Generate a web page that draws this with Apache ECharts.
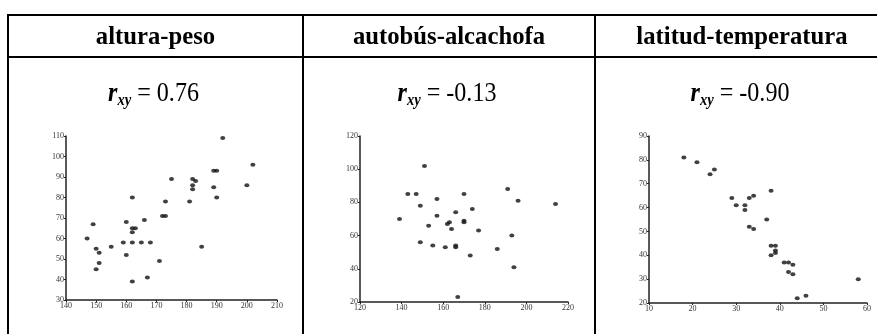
<!DOCTYPE html>
<html>
<head>
<meta charset="utf-8">
<script src="https://cdn.jsdelivr.net/npm/echarts@6/dist/echarts.min.js"></script>
<style>
  html, body { margin: 0; padding: 0; background: #fff; }
  #chart { width: 877px; height: 334px; }
</style>
</head>
<body>
<div id="chart"></div>
<script>
// Column headings and correlation coefficients
const headings = ['altura-peso', 'autobús-alcachofa', 'latitud-temperatura'];
const coefficients = ['0.76', '-0.13', '-0.90'];

// altura-peso
const altura = [192, 202, 175, 182, 183, 182, 182, 189, 190, 189, 200, 190, 162, 173, 181, 172, 173, 166, 160, 149,
  162, 163, 162, 147, 159, 162, 165, 168, 155, 185, 150, 151, 160, 151, 171, 150, 167, 162];
const peso = [109, 96, 89, 89, 88, 86, 84, 93, 93, 85, 86, 80, 80, 78, 78, 71, 71, 69, 68, 67,
  65, 65, 63, 60, 58, 58, 58, 58, 56, 56, 55, 53, 52, 48, 49, 45, 41, 39];
const alturaTicks = [140, 150, 160, 170, 180, 190, 200, 210];
const pesoTicks = [30, 40, 50, 60, 70, 80, 90, 100, 110];

// autobús-alcachofa
const autobus = [151, 143, 147, 170, 157, 149, 139, 157, 166, 174, 153, 162, 163, 164, 170, 170, 177, 191, 196, 214,
  149, 155, 161, 166, 166, 173, 186, 193, 194, 167];
const alcachofa = [102, 85, 85, 85, 82, 78, 70, 72, 74, 76, 66, 67, 68, 64, 69, 68, 63, 88, 81, 79,
  56, 54, 53, 54, 53, 48, 52, 60, 41, 23];
const autobusTicks = [120, 140, 160, 180, 200, 220];
const alcachofaTicks = [20, 40, 60, 80, 100, 120];

// latitud-temperatura
const latitud = [18, 21, 25, 24, 38, 34, 29, 33, 30, 32, 32, 37, 33, 34, 38, 39, 39, 39, 38, 41, 42, 43, 42, 43, 58, 46, 44];
const temperatura = [81, 79, 76, 74, 67, 65, 64, 64, 61, 61, 59, 55, 52, 51, 44, 44, 42, 41, 40, 37, 37, 36, 33, 32, 30, 23, 22];
const latitudTicks = [10, 20, 30, 40, 50, 60];
const temperaturaTicks = [20, 30, 40, 50, 60, 70, 80, 90];

const SERIF = '"Liberation Serif", "Times New Roman", serif';

const panels = [
  { xs: altura, ys: peso, xt: alturaTicks, yt: pesoTicks,
    grid: { left: 66, top: 136, width: 211, height: 164 } },
  { xs: autobus, ys: alcachofa, xt: autobusTicks, yt: alcachofaTicks,
    grid: { left: 360, top: 136, width: 208, height: 166 } },
  { xs: latitud, ys: temperatura, xt: latitudTicks, yt: temperaturaTicks,
    grid: { left: 649, top: 136, width: 218, height: 167 } }
];

function axisFromTicks(ticks, extra) {
  return Object.assign({
    type: 'value',
    min: ticks[0],
    max: ticks[ticks.length - 1],
    interval: ticks[1] - ticks[0],
    splitLine: { show: false },
    axisLine: { show: true, onZero: false, lineStyle: { color: '#222', width: 1.5 } },
    axisTick: { show: true, inside: false, length: 2, lineStyle: { color: '#222', width: 1 } },
    axisLabel: { fontFamily: SERIF, fontSize: 8, color: '#333', margin: 2, showMinLabel: true, showMaxLabel: true }
  }, extra || {});
}

// Table frame: top rule, heading rule, outer left edge and column dividers
const colEdges = [8, 303, 595, 889];
const tableTop = 15, headRule = 57;
const frame = [];
const lineStyle = { stroke: '#000', lineWidth: 2 };
frame.push({ type: 'line', shape: { x1: colEdges[0], y1: tableTop, x2: 877, y2: tableTop }, style: lineStyle });
frame.push({ type: 'line', shape: { x1: colEdges[0], y1: headRule, x2: 877, y2: headRule }, style: lineStyle });
for (let i = 0; i < 3; i++) {
  frame.push({ type: 'line', shape: { x1: colEdges[i], y1: tableTop - 1, x2: colEdges[i], y2: 334 }, style: lineStyle });
}

// Headings and r_xy captions centred in each column
const texts = [];
headings.forEach((h, i) => {
  const cx = (colEdges[i] + colEdges[i + 1]) / 2;
  texts.push({
    type: 'text', x: cx, y: 37, scaleX: 0.95,
    style: {
      text: h, fontFamily: SERIF, fontWeight: 'bold', fontSize: 26, fill: '#000',
      align: 'center', verticalAlign: 'middle'
    }
  });
  texts.push({
    type: 'text', x: cx - 2, y: 94, scaleX: 0.86,
    style: {
      text: '{r|r}{s|xy}{e| = ' + coefficients[i] + '}',
      align: 'center', verticalAlign: 'middle', fill: '#000',
      rich: {
        r: { fontFamily: SERIF, fontStyle: 'italic', fontWeight: 'bold', fontSize: 28, fill: '#000', lineHeight: 30 },
        s: { fontFamily: SERIF, fontStyle: 'italic', fontWeight: 'bold', fontSize: 17, fill: '#000',
             lineHeight: 30, verticalAlign: 'bottom', padding: [10, 0, 0, 0] },
        e: { fontFamily: SERIF, fontSize: 28, fill: '#000', lineHeight: 30 }
      }
    }
  });
});

const option = {
  backgroundColor: '#fff',
  animation: false,
  grid: panels.map(p => Object.assign({ containLabel: false }, p.grid)),
  xAxis: panels.map((p, i) => axisFromTicks(p.xt, { gridIndex: i })),
  yAxis: panels.map((p, i) => axisFromTicks(p.yt, { gridIndex: i })),
  series: panels.map((p, i) => ({
    type: 'scatter',
    xAxisIndex: i,
    yAxisIndex: i,
    symbol: 'circle',
    symbolSize: [5, 4],
    itemStyle: { color: '#111' },
    data: p.xs.map((x, k) => [x, p.ys[k]])
  })),
  graphic: frame.concat(texts)
};

const chart = echarts.init(document.getElementById('chart'), null, { renderer: 'canvas' });
chart.setOption(option);
</script>
</body>
</html>
